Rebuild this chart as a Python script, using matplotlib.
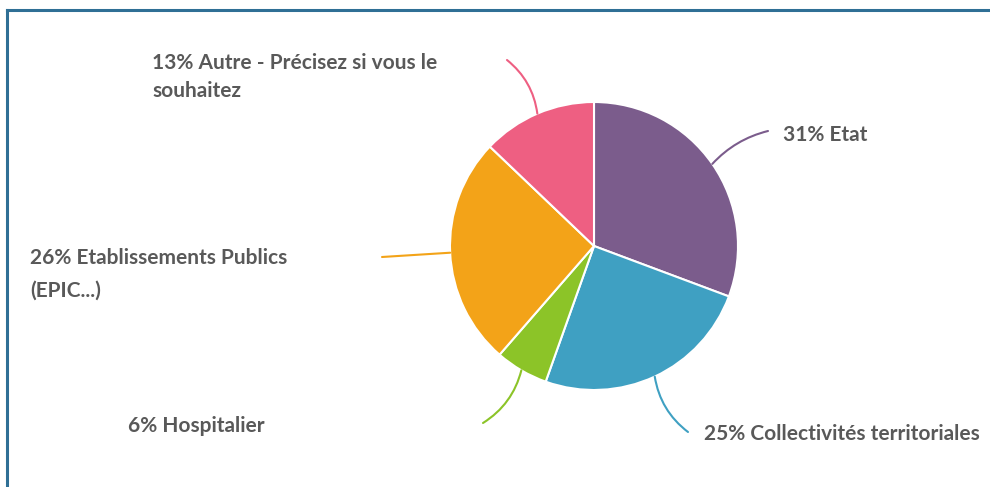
import matplotlib.pyplot as plt
import numpy as np
from matplotlib.lines import Line2D

# data (percentages, clockwise from top)
categories = ["Etat", "Collectivités territoriales", "Hospitalier",
              "Etablissements Publics (EPIC...)", "Autre - Précisez si vous le souhaitez"]
values = [31, 25, 6, 26, 13]
labels = ["31% Etat", "25% Collectivités territoriales", "6% Hospitalier",
          "26% Etablissements Publics\n(EPIC...)", "13% Autre - Précisez si vous le\nsouhaitez"]
colors = ["#7b5c8c", "#3fa0c2", "#8cc428", "#f3a318", "#ee5f82"]

W, H = 990, 487
cx, cy, R = 594, 246, 144  # pie centre / radius in pixels


def px(x, y):
    # pixel position (from top-left) -> data units (radius = 1)
    return (x - cx) / R, (cy - y) / R


fig = plt.figure(figsize=(W / 100, H / 100), dpi=100)
ax = fig.add_axes([0, 0, 1, 1])

wedges, _ = ax.pie(values, colors=colors, startangle=90, counterclock=False,
                   radius=1, wedgeprops=dict(edgecolor="white", linewidth=1.5))

# pie() resets the limits, so set them afterwards
ax.set_xlim(-cx / R, (W - cx) / R)
ax.set_ylim(-(H - cy) / R, cy / R)
ax.set_aspect("equal")
ax.axis("off")

# label text position (left x, centre y in px), leader end (px), curvature, line spacing
label_pos = [(783, 135), (704, 434), (128, 426), (30, 274), (152, 77)]
leader_end = [(768, 131), (688, 432), (483, 423), (382, 257), (507, 60)]
leader_rad = [0.15, -0.2, 0.2, 0.0, -0.2]
spacing = [1.2, 1.2, 1.2, 1.8, 1.52]

for i, w in enumerate(wedges):
    ang = np.deg2rad((w.theta1 + w.theta2) / 2)
    start = (np.cos(ang), np.sin(ang))
    ax.annotate("", xy=start, xytext=px(*leader_end[i]),
                arrowprops=dict(arrowstyle="-", color=colors[i], lw=1.5,
                                connectionstyle="arc3,rad=%.2f" % leader_rad[i],
                                shrinkA=0, shrinkB=0))
    tx, ty = px(*label_pos[i])
    ax.text(tx, ty, labels[i], ha="left", va="center", fontsize=15,
            fontfamily="Lato", fontweight="bold", color="#595959",
            linespacing=spacing[i])

# blue frame (top and left edges only, as in the screenshot)
frame = "#2f6f95"
fig.add_artist(Line2D([7 / W, 1], [1 - 10 / H, 1 - 10 / H], color=frame, lw=2.2,
                      transform=fig.transFigure))
fig.add_artist(Line2D([7 / W, 7 / W], [0, 1 - 10 / H], color=frame, lw=2.2,
                      transform=fig.transFigure))

fig.savefig("out.png", dpi=100)
